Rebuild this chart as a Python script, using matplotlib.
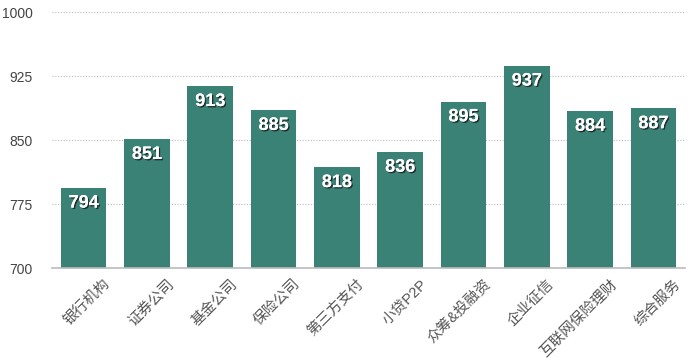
import numpy as np
import matplotlib
matplotlib.use('Agg')
import matplotlib.pyplot as plt
import matplotlib.transforms as mtransforms
import matplotlib.patheffects as pe

plt.rcParams['font.family'] = ['Liberation Sans', 'Noto Sans CJK SC', 'DejaVu Sans']

categories = ['银行机构', '证券公司', '基金公司', '保险公司', '第三方支付', '小贷P2P',
              '众筹&投融资', '企业征信', '互联网保险理财', '综合服务']
scores = [794, 851, 913, 885, 818, 836, 895, 937, 884, 887]
y_ticks = [700, 775, 850, 925, 1000]

fig = plt.figure(figsize=(6.9, 3.63), dpi=100)
ax = fig.add_axes([52 / 690, 1 - 268 / 363, (685 - 52) / 690, (268 - 12) / 363])

x = np.arange(len(categories))
ax.bar(x, scores, width=0.72, color='#3a8276', zorder=2)

ax.set_xlim(-0.5, len(categories) - 0.5)
ax.set_ylim(700, 1000)
ax.set_yticks(y_ticks)
ax.set_yticklabels([str(t) for t in y_ticks], color='#444444', fontsize=10)
ax.yaxis.grid(True, linestyle=(0, (1, 1.5)), color='#bbbbbb', linewidth=0.8, zorder=0)
ax.tick_params(axis='y', length=0, pad=14)
ax.tick_params(axis='x', length=0)

for side in ['top', 'right', 'left']:
    ax.spines[side].set_visible(False)
ax.spines['bottom'].set_color('#bbbbbb')
ax.spines['bottom'].set_linewidth(1.2)

ax.set_xticks(x)
ax.set_xticklabels(categories, rotation=45, ha='right', rotation_mode='anchor',
                   color='#555555', fontsize=10.5)
for lbl in ax.get_xticklabels():
    lbl.set_transform(lbl.get_transform() + mtransforms.ScaledTranslation(20 / 100, -4 / 100, fig.dpi_scale_trans))

shadow = [pe.withSimplePatchShadow(offset=(1, -1), shadow_rgbFace='#1a1a1a', alpha=0.8), pe.Normal()]
for xi, v in zip(x, scores):
    ax.annotate(str(v), (xi, v), xytext=(0, -11), textcoords='offset points',
                ha='center', va='center', color='white', fontsize=13, fontweight='bold',
                path_effects=shadow, zorder=3)

fig.savefig('out.png', dpi=100, facecolor='white')
